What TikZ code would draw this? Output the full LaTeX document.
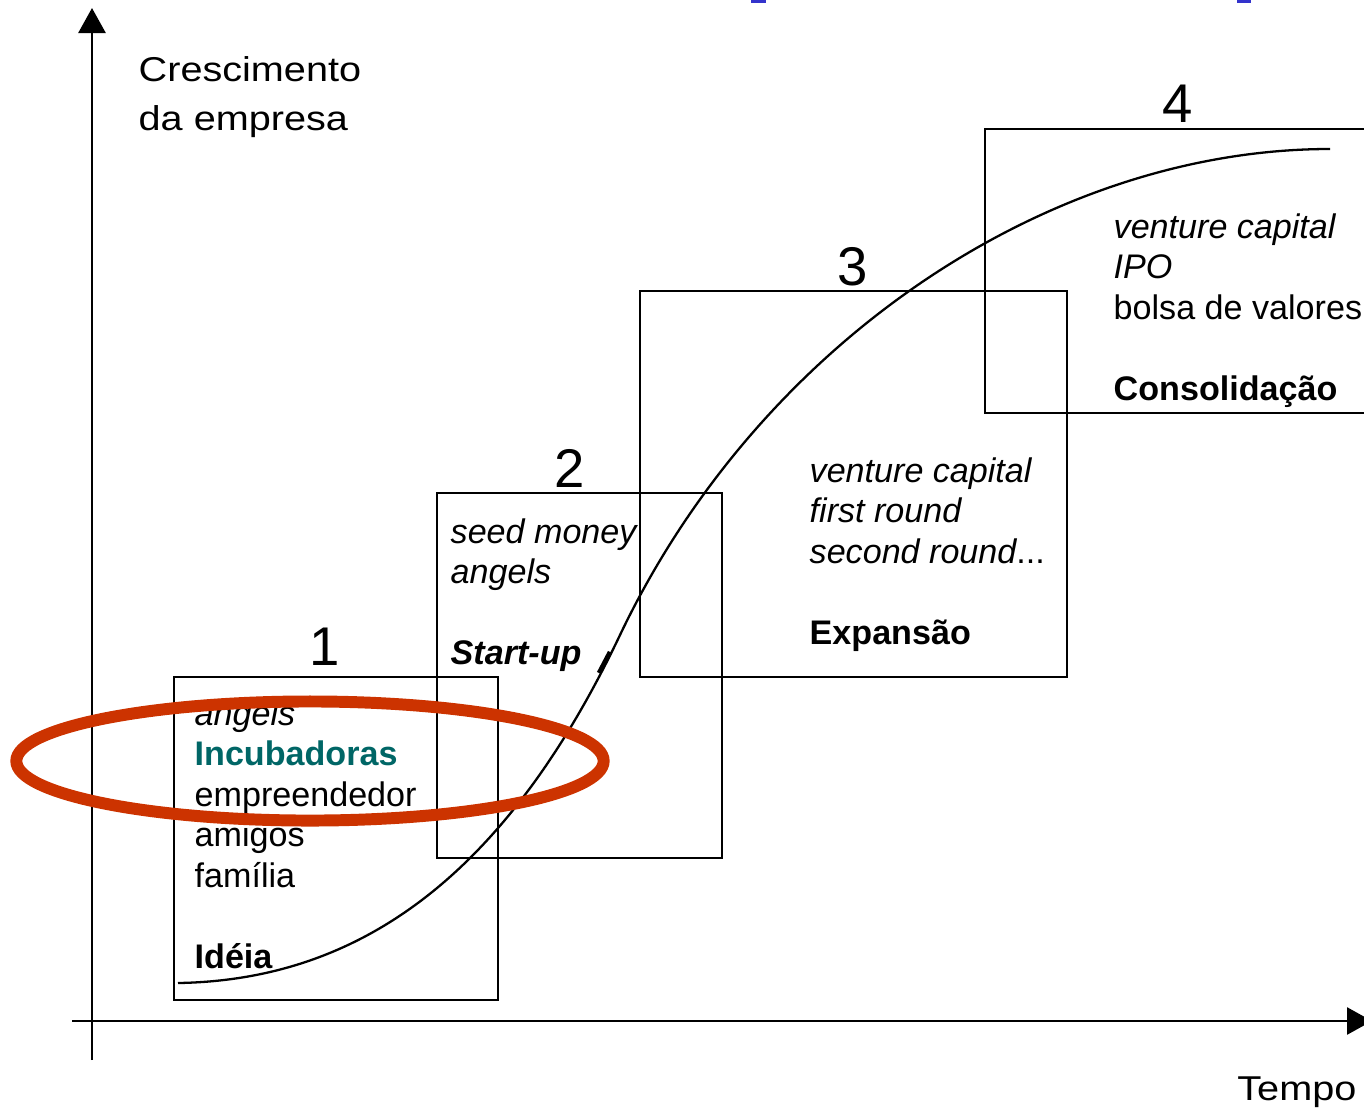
\documentclass[tikz,border=0pt]{standalone}
\usepackage{fontspec}
\setmainfont{Liberation Sans}
\usepackage{graphicx}
\usepackage{xcolor}
\usetikzlibrary{arrows.meta,shapes.geometric}
\definecolor{incubteal}{RGB}{0,102,102}
\definecolor{ringred}{RGB}{204,51,0}
\definecolor{linkblue}{RGB}{51,51,204}
\newcommand{\stagefont}{\fontsize{9.7}{11.52}\selectfont}
\newcommand{\axisfont}{\fontsize{9.8}{13.94}\selectfont}
\newcommand{\numfont}{\fontsize{15.5}{18}\selectfont}
\newcommand{\stagelines}[1]{\begin{tabular}[t]{@{}l@{}}#1\end{tabular}}

\begin{document}
\begin{tikzpicture}[
    x=0.01cm, y=-0.01cm,
    stage/.style={draw, line width=0.65pt, inner sep=0pt},
    txt/.style={anchor=base west, inner sep=0pt, font=\stagefont},
    num/.style={anchor=base, inner sep=0pt, font=\numfont},
    axis/.style={line width=0.75pt, -{Triangle[length=2.5mm,width=2.7mm]}},
    growth/.style={line width=0.65pt},
    ring/.style={draw=ringred, ellipse, line width=3.4pt, inner sep=0pt},
]
    \useasboundingbox (0,0) rectangle (1364,1109);
    \clip (0,0) rectangle (1364,1109);

    % stage boxes
    \node[stage, minimum width=3.24cm, minimum height=3.23cm] (idea)    at (336,838.5)  {};
    \node[stage, minimum width=2.85cm, minimum height=3.65cm] (startup) at (579.5,675.5) {};
    \node[stage, minimum width=4.27cm, minimum height=3.86cm] (expand)  at (853.5,484)  {};
    \node[stage, minimum width=3.86cm, minimum height=2.84cm] (consol)  at (1178,271)   {};

    % stage numbers
    \node[num] (n1) at (325,665)  {1};
    \node[num] (n2) at (570,487)  {2};
    \node[num] (n3) at (853,285)  {3};
    \node[num] (n4) at (1178,122) {4};

    % stage texts
    \node[txt] (t1) at (194,725) {\stagelines{\textit{angels}\\
        \textcolor{incubteal}{\textbf{Incubadoras}}\\ empreendedor\\ amigos\\ família\\ \\ \textbf{Idéia}}};
    \node[txt] (t2) at (450,543) {\stagelines{\textit{seed money}\\ \textit{angels}\\ \\ \textbf{\textit{Start-up}}}};
    \node[txt] (t3) at (809,482) {\stagelines{\textit{venture capital}\\ \textit{first round}\\
        \textit{second round}...\\ \\ \textbf{Expansão}}};
    \node[txt] (t4) at (1113,238) {\stagelines{\textit{venture capital}\\ \textit{IPO}\\
        bolsa de valores\\ \\ \textbf{Consolidação}}};

    % axes
    \coordinate (ybot) at (92,1060);
    \coordinate (ytop) at (92,8);
    \coordinate (xleft) at (72,1021);
    \coordinate (xright) at (1372,1021);
    \draw[axis] (ybot) -- (ytop);
    \draw[axis] (xleft) -- (xright);
    \node[anchor=base west, inner sep=0pt, font=\axisfont] (ylabel) at (138,81)
        {\scalebox{1.15}[1]{\stagelines{Crescimento\\ da empresa}}};
    \node[anchor=base east, inner sep=0pt, font=\axisfont] (xlabel) at (1357,1100)
        {\scalebox{1.15}[1]{Tempo}};

    % growth curve
    \coordinate (gstart) at (178,983);
    \coordinate (gturn)  at (620,635);
    \coordinate (gend)   at (1330,149);
    \draw[growth] (gstart) .. controls (368,980) and (510,866) .. (gturn)
                           .. controls (760,341) and (1050,149) .. (gend);
    \draw[line width=1.3pt] (599,673) -- (610,652);

    % highlight
    \node[ring, minimum width=5.87cm, minimum height=1.19cm] (focus) at (310,761) {};

    % stray link marks
    \fill[linkblue] (751,0) rectangle (766,3);
    \fill[linkblue] (1237,0) rectangle (1251,3);
\end{tikzpicture}
\end{document}
